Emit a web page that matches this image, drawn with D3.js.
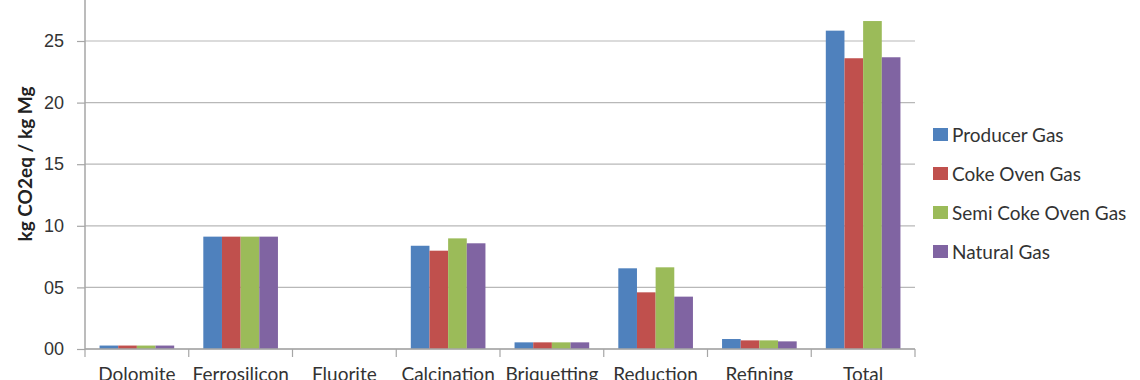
<!DOCTYPE html>
<html>
<head>
<meta charset="utf-8">
<script src="https://cdn.jsdelivr.net/npm/d3@7"></script>
<style>
  body { margin: 0; background: #fff; }
  svg { display: block; font-family: Lato, "Open Sans", sans-serif; }
</style>
</head>
<body>
<svg></svg>
<script>
var categories = ["Dolomite", "Ferrosilicon", "Fluorite", "Calcination", "Briquetting", "Reduction", "Refining", "Total"];
var seriesNames = ["Producer Gas", "Coke Oven Gas", "Semi Coke Oven Gas", "Natural Gas"];
var producerGas = [0.28, 9.12, 0, 8.38, 0.54, 6.55, 0.81, 25.84];
var cokeOvenGas = [0.28, 9.12, 0, 7.98, 0.54, 4.6, 0.7, 23.6];
var semiCokeOvenGas = [0.28, 9.12, 0, 8.98, 0.54, 6.63, 0.7, 26.62];
var naturalGas = [0.28, 9.12, 0, 8.58, 0.54, 4.25, 0.62, 23.68];
var yTicks = [0, 5, 10, 15, 20, 25];
var colors = ["#4f81bd", "#c0504d", "#9bbb59", "#8064a2"];

var width = 1140;
var height = 380;
var seriesValues = [producerGas, cokeOvenGas, semiCokeOvenGas, naturalGas];

var rows = categories.map(function(c, i){
  return {cat: c, values: seriesNames.map(function(s, j){ return {name: s, value: seriesValues[j][i]}; })};
});

var svg = d3.select('svg')
    .attr('width', width)
    .attr('height', height);

var left = 85, right = 915, zeroY = 349;

var x = d3.scaleBand()
    .domain(categories)
    .range([left, right])
    .paddingInner(0)
    .paddingOuter(0);

var x1 = d3.scaleBand()
    .domain(seriesNames)
    .range([0, x.bandwidth()])
    .paddingInner(0)
    .paddingOuter(0.78);

var y = d3.scaleLinear()
    .domain([0, 30])
    .range([zeroY, zeroY - 30 * 12.32]);

// grid lines
svg.append('g')
  .selectAll('line')
  .data(yTicks)
  .enter()
  .append('line')
    .attr('x1', left)
    .attr('x2', right)
    .attr('y1', d => y(d))
    .attr('y2', d => y(d))
    .attr('stroke', '#b8b8b8')
    .attr('stroke-width', 1.2);

// bars
var groups = svg.append('g')
  .selectAll('g')
  .data(rows)
  .enter()
  .append('g')
    .attr('transform', d => 'translate(' + x(d.cat) + ',0)');

groups.selectAll('rect')
  .data(d => d.values)
  .enter()
  .append('rect')
    .attr('x', d => x1(d.name))
    .attr('width', x1.bandwidth())
    .attr('y', d => y(d.value))
    .attr('height', d => zeroY - y(d.value))
    .attr('fill', (d, i) => colors[i]);

// y axis
var yAxis = svg.append('g')
    .attr('transform', 'translate(' + left + ',0)')
    .call(d3.axisLeft(y).tickValues(yTicks).tickFormat(d3.format('02d')).tickSize(8).tickPadding(13));
yAxis.select('.domain').attr('stroke', '#a6a6a6').attr('stroke-width', 1.5).attr('d', 'M0,' + y(30) + 'V' + zeroY);
yAxis.selectAll('.tick line').attr('stroke', '#a6a6a6').attr('stroke-width', 1.2);
yAxis.selectAll('.tick text').attr('font-size', 18).attr('fill', '#333');

// x axis
var xAxis = svg.append('g')
    .attr('transform', 'translate(0,' + zeroY + ')');
xAxis.append('line')
    .attr('x1', left).attr('x2', right)
    .attr('stroke', '#a6a6a6').attr('stroke-width', 1.5);
xAxis.selectAll('.sep')
  .data(categories.concat(['end']))
  .enter()
  .append('line')
    .attr('x1', (d, i) => i < categories.length ? x(d) : right)
    .attr('x2', (d, i) => i < categories.length ? x(d) : right)
    .attr('y1', 0).attr('y2', 8)
    .attr('stroke', '#a6a6a6').attr('stroke-width', 1.2);
xAxis.selectAll('.lbl')
  .data(categories)
  .enter()
  .append('text')
    .attr('x', d => x(d) + x.bandwidth() / 2)
    .attr('y', 32)
    .attr('text-anchor', 'middle')
    .attr('font-size', 19)
    .attr('fill', '#333')
    .text(d => d);

// y title
svg.append('text')
    .attr('transform', 'translate(32,' + 164 + ') rotate(-90)')
    .attr('text-anchor', 'middle')
    .attr('font-size', 19)
    .attr('font-weight', 'bold')
    .attr('fill', '#222')
    .text('kg CO2eq / kg Mg');

// legend
var legend = svg.append('g')
  .selectAll('g')
  .data(seriesNames)
  .enter()
  .append('g')
    .attr('transform', (d, i) => 'translate(933,' + (135 + i * 39) + ')');
legend.append('rect')
    .attr('x', 0).attr('y', -7)
    .attr('width', 15).attr('height', 13)
    .attr('fill', (d, i) => colors[i]);
legend.append('text')
    .attr('x', 19)
    .attr('y', 7)
    .attr('font-size', 19)
    .attr('fill', '#333')
    .text(d => d);
</script>
</body>
</html>
